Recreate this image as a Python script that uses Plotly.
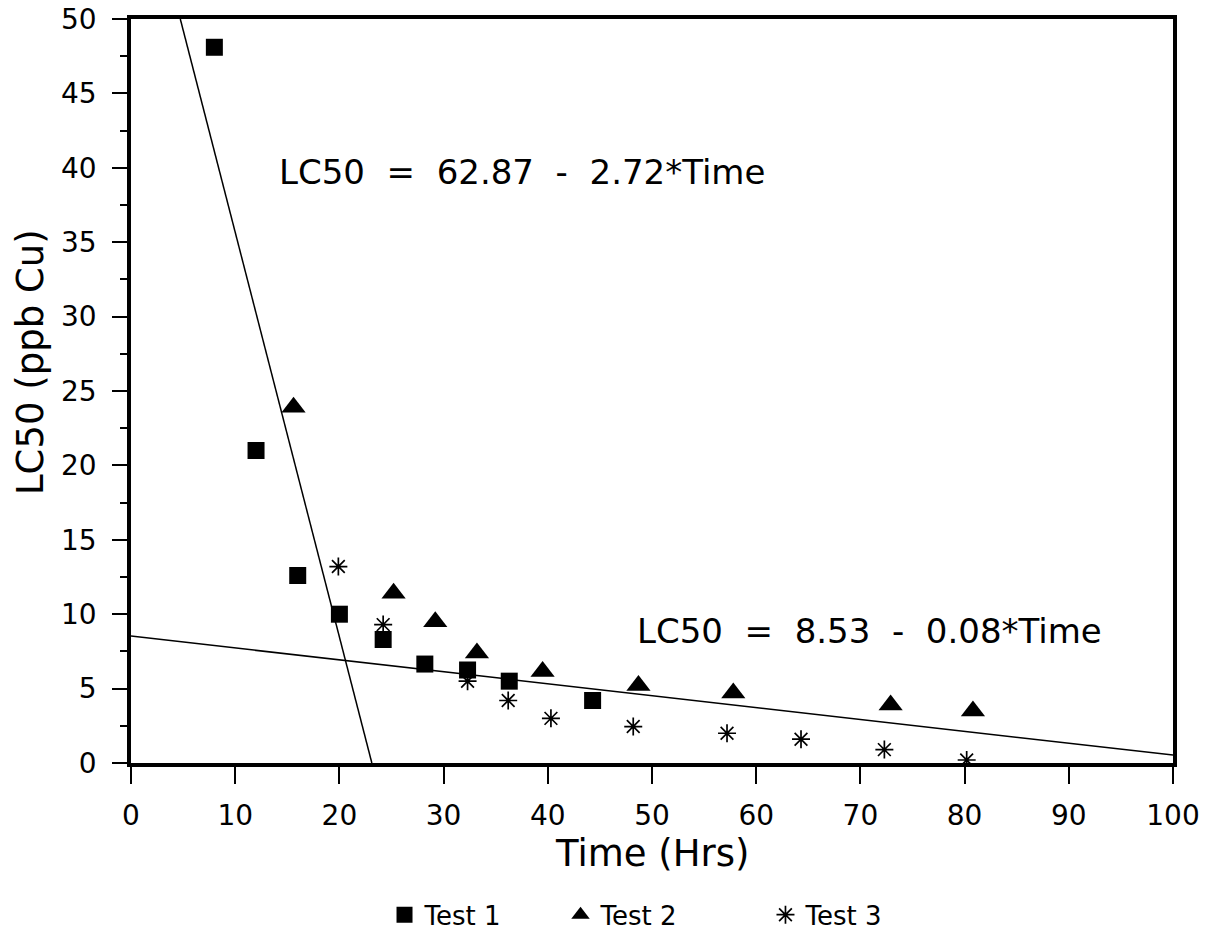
import plotly.graph_objects as go

# Test 1 (squares)
t1_time = [8, 12, 16, 20, 24.2, 28.2, 32.3, 36.3, 44.3]
t1_lc50 = [48.1, 21.0, 12.6, 10.0, 8.3, 6.65, 6.25, 5.5, 4.2]
# Test 2 (triangles)
t2_time = [15.6, 25.2, 29.2, 33.2, 39.5, 48.7, 57.8, 72.9, 80.8]
t2_lc50 = [23.9, 11.4, 9.5, 7.4, 6.15, 5.2, 4.7, 3.9, 3.5]
# Test 3 (asterisks)
t3_time = [19.9, 24.2, 32.3, 36.2, 40.3, 48.2, 57.2, 64.3, 72.3, 80.2]
t3_lc50 = [13.2, 9.3, 5.5, 4.2, 3.0, 2.45, 2.0, 1.6, 0.9, 0.2]

# regression lines: LC50 = a - b*Time
fit1 = (62.87, 2.72)
fit2 = (8.53, 0.08)
eq1_text = "LC50  =  62.87  -  2.72*Time"
eq2_text = "LC50  =  8.53  -  0.08*Time"

x_ticks = [0, 10, 20, 30, 40, 50, 60, 70, 80, 90, 100]
y_ticks = [0, 5, 10, 15, 20, 25, 30, 35, 40, 45, 50]

FONT = "DejaVu Sans, Verdana, sans-serif"

fig = go.Figure()

l1_x = [(fit1[0] - 50) / fit1[1], fit1[0] / fit1[1]]
l1_y = [fit1[0] - fit1[1] * v for v in l1_x]
fig.add_trace(go.Scatter(x=l1_x, y=l1_y, mode="lines",
                         line=dict(color="black", width=1.5), showlegend=False, hoverinfo="skip"))
l2_x = [0, 100]
l2_y = [fit2[0] - fit2[1] * v for v in l2_x]
fig.add_trace(go.Scatter(x=l2_x, y=l2_y, mode="lines",
                         line=dict(color="black", width=1.5), showlegend=False, hoverinfo="skip"))

fig.add_trace(go.Scatter(x=t1_time, y=t1_lc50, mode="markers", name="Test 1", legend="legend",
                         marker=dict(symbol="square", size=17, color="black")))
fig.add_trace(go.Scatter(x=t2_time, y=t2_lc50, mode="markers", name="Test 2", legend="legend2",
                         marker=dict(symbol="triangle-up", size=21, color="black")))
fig.add_trace(go.Scatter(x=t3_time, y=t3_lc50, mode="markers", name="Test 3", legend="legend3",
                         marker=dict(symbol="asterisk-open", size=15, color="black",
                                     line=dict(color="black", width=1.7))))

fig.add_annotation(x=14.05, y=39.7, xref="x", yref="y", xanchor="left", yanchor="middle",
                   text=eq1_text, showarrow=False,
                   font=dict(family=FONT, size=34, color="black"))
fig.add_annotation(x=48.4, y=8.9, xref="x", yref="y", xanchor="left", yanchor="middle",
                   text=eq2_text, showarrow=False,
                   font=dict(family=FONT, size=34, color="black"))

# axis titles
fig.add_annotation(x=0.5, y=-0.122, xref="paper", yref="paper", xanchor="center", yanchor="middle",
                   text="Time (Hrs)", showarrow=False,
                   font=dict(family=FONT, size=37, color="black"))
fig.add_annotation(x=-0.0959, y=0.539, xref="paper", yref="paper", xanchor="center", yanchor="middle",
                   text="LC50 (ppb Cu)", showarrow=False, textangle=-90,
                   font=dict(family=FONT, size=37, color="black"))

leg_common = dict(orientation="h", xanchor="left", yanchor="middle", y=-0.204,
                  font=dict(family=FONT, size=26, color="black"),
                  bgcolor="rgba(0,0,0,0)", borderwidth=0)

fig.update_layout(
    width=1212, height=937,
    margin=dict(l=130.5, r=38.5, t=19, b=174, autoexpand=False),
    paper_bgcolor="white", plot_bgcolor="white",
    font=dict(family=FONT, color="black"),
    showlegend=True,
    legend=dict(x=0.2433, **leg_common),
    legend2=dict(x=0.4122, **leg_common),
    legend3=dict(x=0.6089, **leg_common),
)
fig.update_xaxes(range=[0, 100], tickvals=x_ticks, ticktext=[str(v) for v in x_ticks],
                 ticks="outside", ticklen=17, tickwidth=2, tickcolor="black",
                 ticklabelstandoff=8, automargin=False, ticklabeloverflow="allow",
                 showline=True, linewidth=3.5, linecolor="black", mirror=True,
                 showgrid=False, zeroline=False,
                 tickfont=dict(family=FONT, size=28, color="black"))
fig.update_yaxes(range=[0, 50], tickvals=y_ticks, ticktext=[str(v) for v in y_ticks],
                 ticks="outside", ticklen=15, tickwidth=2, tickcolor="black",
                 ticklabelstandoff=10, automargin=False, ticklabeloverflow="allow",
                 minor=dict(dtick=2.5, ticks="outside", ticklen=7, tickwidth=2, tickcolor="black"),
                 showline=True, linewidth=3.5, linecolor="black", mirror=True,
                 showgrid=False, zeroline=False,
                 tickfont=dict(family=FONT, size=28, color="black"))

# remove the browser's default 8px body margin so the figure fills the window exactly
fig.write_html("out.html", config={"displayModeBar": False},
               post_script="document.body.style.margin='0px';")
